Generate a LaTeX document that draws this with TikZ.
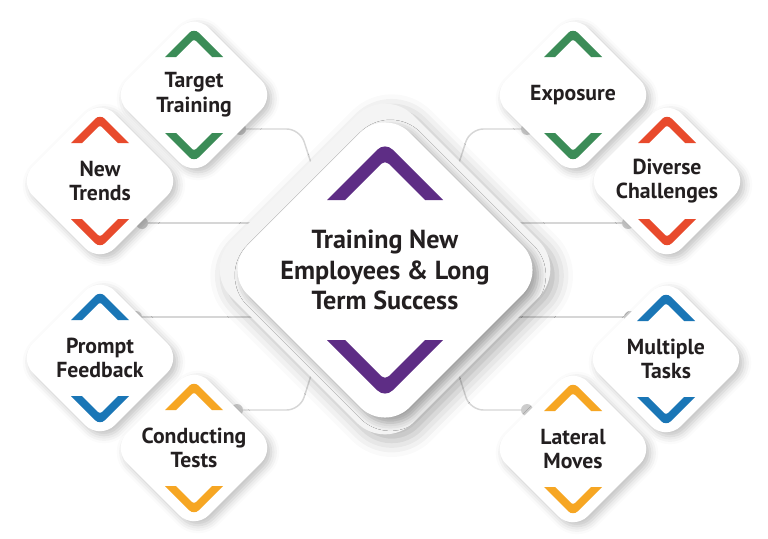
\documentclass[tikz,border=0pt]{standalone}
\usepackage{fontspec}
\setmainfont{PT Sans}
\usetikzlibrary{shapes.geometric,shadows.blur,backgrounds}

\definecolor{tpurple}{HTML}{5E2D85}
\definecolor{tgreen}{HTML}{3B8C57}
\definecolor{tred}{HTML}{E84A2C}
\definecolor{tblue}{HTML}{1A76B6}
\definecolor{torange}{HTML}{F6A623}
\definecolor{tink}{HTML}{231F20}
\definecolor{tlayer}{HTML}{F4F4F4}
\definecolor{tline}{HTML}{D6D6D6}
\definecolor{tdot}{HTML}{CCCCCC}

\tikzset{
  tile/.style={diamond, aspect=1, minimum size=123pt, inner sep=0pt,
    rounded corners=15.75pt, fill=white, text=tink, align=center,
    font=\bfseries\fontsize{16.3}{18.5}\selectfont,
    blur shadow={shadow xshift=3pt, shadow yshift=-3pt,
      shadow blur radius=6pt, shadow opacity=25}},
  core/.style={diamond, aspect=1, minimum size=273pt, inner sep=0pt,
    rounded corners=30pt, fill=tlayer,
    blur shadow={shadow xshift=5pt, shadow yshift=-5pt,
      shadow blur radius=12pt, shadow opacity=30}},
  hub/.style={diamond, aspect=1, minimum size=243pt, inner sep=0pt,
    rounded corners=26pt, fill=white, text=tink, align=center,
    font=\bfseries\fontsize{19.6}{23}\selectfont,
    blur shadow={shadow xshift=4pt, shadow yshift=-4pt,
      shadow blur radius=6pt, shadow opacity=35}},
  link/.style={draw=tline, line width=1.1pt, rounded corners=10pt},
  dot/.style={fill=tdot}
}

\begin{document}
\begin{tikzpicture}[x=0.75pt, y=-0.75pt]
  \useasboundingbox (0,0) rectangle (768,539);

  % centre
  \node[core] (core) at (385,269) {};
  \node[hub] (hub) at (385,270) {Training New\\Employees \& Long\\Term Success};
  \fill[tpurple, shift={(hub.center)}]
    (-58,-70) [rounded corners=8pt] -- (0,-128) [sharp corners] -- (58,-70)
    -- (40,-70) [rounded corners=4pt] -- (0,-110) [sharp corners] -- (-40,-70) -- cycle;
  \fill[tpurple, shift={(hub.center)}]
    (-58,70) [rounded corners=8pt] -- (0,128) [sharp corners] -- (58,70)
    -- (40,70) [rounded corners=4pt] -- (0,110) [sharp corners] -- (-40,70) -- cycle;

  % tiles
  \node[tile] (target) at (194,95) {Target\\Training};
  \node[tile] (trends) at (100,181) {New\\Trends};
  \node[tile] (exposure) at (573,95) {Exposure};
  \node[tile] (diverse) at (667,181) {Diverse\\Challenges};
  \node[tile] (prompt) at (100,358) {Prompt\\Feedback};
  \node[tile] (tests) at (194,448) {Conducting\\Tests};
  \node[tile] (multiple) at (666,359) {Multiple\\Tasks};
  \node[tile] (lateral) at (573,449) {Lateral\\Moves};

  \foreach \n/\c in {target/tgreen, trends/tred, exposure/tgreen, diverse/tred,
      prompt/tblue, tests/torange, multiple/tblue, lateral/torange} {
    \fill[\c, shift={(\n.center)}]
      (-29,-38) [rounded corners=5pt] -- (0,-67) [sharp corners] -- (29,-38)
      -- (18,-38) [rounded corners=2pt] -- (0,-56) [sharp corners] -- (-18,-38) -- cycle;
    \fill[\c, shift={(\n.center)}]
      (-29,38) [rounded corners=5pt] -- (0,67) [sharp corners] -- (29,38)
      -- (18,38) [rounded corners=2pt] -- (0,56) [sharp corners] -- (-18,38) -- cycle;
  }

  % links
  \coordinate (target-dot) at ([shift={(46,34)}]target.center);
  \coordinate (trends-dot) at ([shift={(42,42)}]trends.center);
  \coordinate (exposure-dot) at ([shift={(-46,34)}]exposure.center);
  \coordinate (diverse-dot) at ([shift={(-39,42)}]diverse.center);
  \coordinate (prompt-dot) at ([shift={(36,-41)}]prompt.center);
  \coordinate (tests-dot) at ([shift={(43,-38)}]tests.center);
  \coordinate (multiple-dot) at ([shift={(-36,-42)}]multiple.center);
  \coordinate (lateral-dot) at ([shift={(-46,-39)}]lateral.center);
  \begin{pgfonlayer}{background}
    \draw[link] (target-dot) -- ++(60,0) -- ([shift={(22,0)}]core.north west);
    \draw[link] (exposure-dot) -- ++(-57,0) -- ([shift={(-22,0)}]core.north east);
    \draw[link] (tests-dot) -- ++(63,0) -- ([shift={(22,0)}]core.south west);
    \draw[link] (lateral-dot) -- ++(-57,0) -- ([shift={(-22,0)}]core.south east);
    \draw[link] (trends-dot) -- (trends-dot -| core.center);
    \draw[link] (diverse-dot) -- (diverse-dot -| core.center);
    \draw[link] (prompt-dot) -- (prompt-dot -| core.center);
    \draw[link] (multiple-dot) -- (multiple-dot -| core.center);
    \foreach \d in {target, trends, exposure, diverse, prompt, tests, multiple, lateral}
      \fill[dot] (\d-dot) circle (4.5pt);
  \end{pgfonlayer}
\end{tikzpicture}
\end{document}
